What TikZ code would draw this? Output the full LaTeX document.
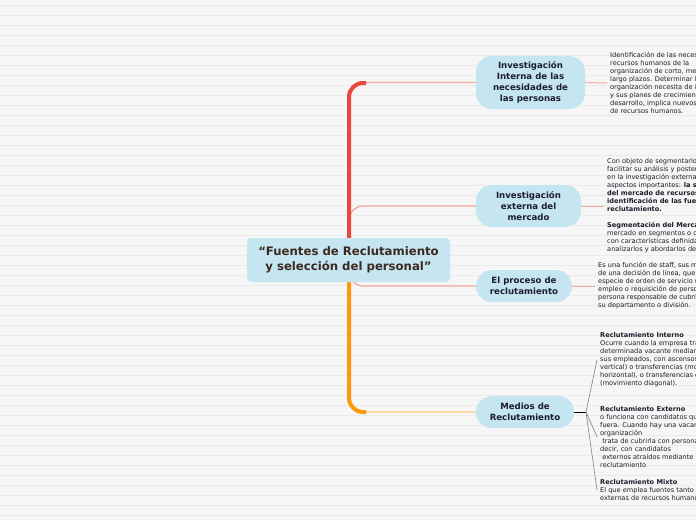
\documentclass[tikz,border=0pt]{standalone}
\usepackage{fontspec}
\setmainfont{DejaVu Sans}
\usepackage{tikz}
\usetikzlibrary{positioning, calc, backgrounds}

\definecolor{fondo}{HTML}{F6F6F6}
\definecolor{raya}{HTML}{EAEAEA}
\definecolor{celeste}{HTML}{C5E5F0}
\definecolor{rojo}{HTML}{E8483E}
\definecolor{naranja}{HTML}{FD9A0C}
\definecolor{salmon}{HTML}{F6A89E}
\definecolor{ambar}{HTML}{FFC97A}
\definecolor{cafe}{HTML}{3A2A20}
\definecolor{tinta}{HTML}{1D1D2B}

\begin{document}
\begin{tikzpicture}[x=1pt, y=-1pt,
  tema/.style={fill=celeste, rounded corners=16pt, align=center, text=tinta,
    font=\bfseries\fontsize{8.6}{11}\selectfont, inner sep=2pt},
  raiz/.style={fill=celeste, rounded corners=4pt, align=center, text=cafe,
    font=\bfseries\fontsize{11.7}{15}\selectfont, minimum width=203pt, minimum height=44pt},
  nota/.style={align=left, inner sep=3pt, text=tinta, anchor=west,
    font=\fontsize{6.6}{8}\selectfont},
  tronco/.style={line width=4pt, rounded corners=14pt},
  rama/.style={line width=1.3pt, rounded corners=14pt},
  hoja/.style={line width=0.6pt, draw=gray},
]
  \useasboundingbox (0,0) rectangle (696,520);

  \node[raiz] (raiz) at (348.5,260) {``Fuentes de Reclutamiento\\ y selección del personal''};
  \node[tema, minimum width=109pt, minimum height=53pt] (interna) at (530.5,82.5)
    {Investigación\\ Interna de las\\ necesidades de\\ las personas};
  \node[tema, minimum width=105pt, minimum height=42pt] (externa) at (528.5,206)
    {Investigación\\ externa del\\ mercado};
  \node[tema, minimum width=96pt, minimum height=32pt] (proceso) at (524,286)
    {El proceso de\\ reclutamiento};
  \node[tema, minimum width=98pt, minimum height=32pt] (medios) at (525,412)
    {Medios de\\ Reclutamiento};

  \begin{scope}
    \clip (0,0) rectangle (696,520);
    \node[nota] (notaInterna) at (607,83)
      {Identificación de las necesidades de\\ recursos humanos de la\\ organización de corto, mediano y\\
       largo plazos. Determinar lo que la\\ organización necesita de inmediato\\ y sus planes de crecimiento y\\
       desarrollo, implica nuevos aportes\\ de recursos humanos.};
    \node[nota] (notaExterna) at (604,206)
      {Con objeto de segmentarlo para\\ facilitar su análisis y posterior\\ en la investigación externa dos\\
       aspectos importantes: \textbf{la segmentación}\\ \textbf{del mercado de recursos humanos y la}\\
       \textbf{identificación de las fuentes de}\\ \textbf{reclutamiento.}\\[8pt]
       \textbf{Segmentación del Mercado:} división del\\ mercado en segmentos o clases\\
       con características definidas para\\ analizarlos y abordarlos de manera};
    \node[nota] (notaProceso) at (595,286)
      {Es una función de staff, sus medidas dependen\\ de una decisión de línea, que se oficializa con\\
       especie de orden de servicio (solicitud de\\ empleo o requisición de personal) firmada por la\\
       persona responsable de cubrir la vacante en\\ su departamento o división.};
    \node[nota] (notaInterno) at (597,360)
      {\textbf{Reclutamiento Interno}\\ Ocurre cuando la empresa trata de llenar una\\
       determinada vacante mediante la reubicación de\\ sus empleados, con ascensos (movimiento\\
       vertical) o transferencias (movimiento\\ horizontal), o transferencias con ascensos\\
       (movimiento diagonal).};
    \node[nota] (notaExterno) at (597,437)
      {\textbf{Reclutamiento Externo}\\ o funciona con candidatos que vienen de\\ fuera. Cuando hay una vacante, la\\
       organización\\ \ trata de cubrirla con personas extrañas, es\\ decir, con candidatos\\
       \ externos atraídos mediante las técnicas de\\ reclutamiento};
    \node[nota] (notaMixto) at (597,490)
      {\textbf{Reclutamiento Mixto}\\ El que emplea fuentes tanto internas como\\ externas de recursos humanos.};
  \end{scope}

  \coordinate (eje1) at (349,110);
  \coordinate (eje2) at (349,225);
  \coordinate (eje3) at (349,272);
  \coordinate (eje4) at (349,395);
  \coordinate (abanico) at (586,412);

  \begin{scope}[on background layer]
    \fill[fondo] (0,0) rectangle (696,520);
    \foreach \y in {5,15,...,515}
      \draw[raya, line width=0.7pt] (0,\y) -- (696,\y);
    \draw[rama, salmon] (eje1) |- (interna.west);
    \draw[rama, salmon] (eje2) |- (externa.west);
    \draw[rama, salmon] (eje3) |- (proceso.west);
    \draw[rama, ambar] (eje4) |- (medios.west);
    \draw[tronco, rojo] (349,240) |- (366,83);
    \draw[tronco, naranja] (349,280) |- (366,412);
    \draw[salmon, line width=1pt] (interna.east) -- (notaInterna.west);
    \draw[salmon, line width=1pt] (externa.east) -- (notaExterna.west);
    \draw[salmon, line width=1pt] (proceso.east) -- (notaProceso.west);
    \draw[black, line width=1pt] (medios.east) -- (abanico);
    \draw[hoja] (abanico) -- (notaInterno.west);
    \draw[hoja] (abanico) -- (notaExterno.west);
    \draw[hoja] (abanico) -- (notaMixto.west);
  \end{scope}
\end{tikzpicture}
\end{document}
